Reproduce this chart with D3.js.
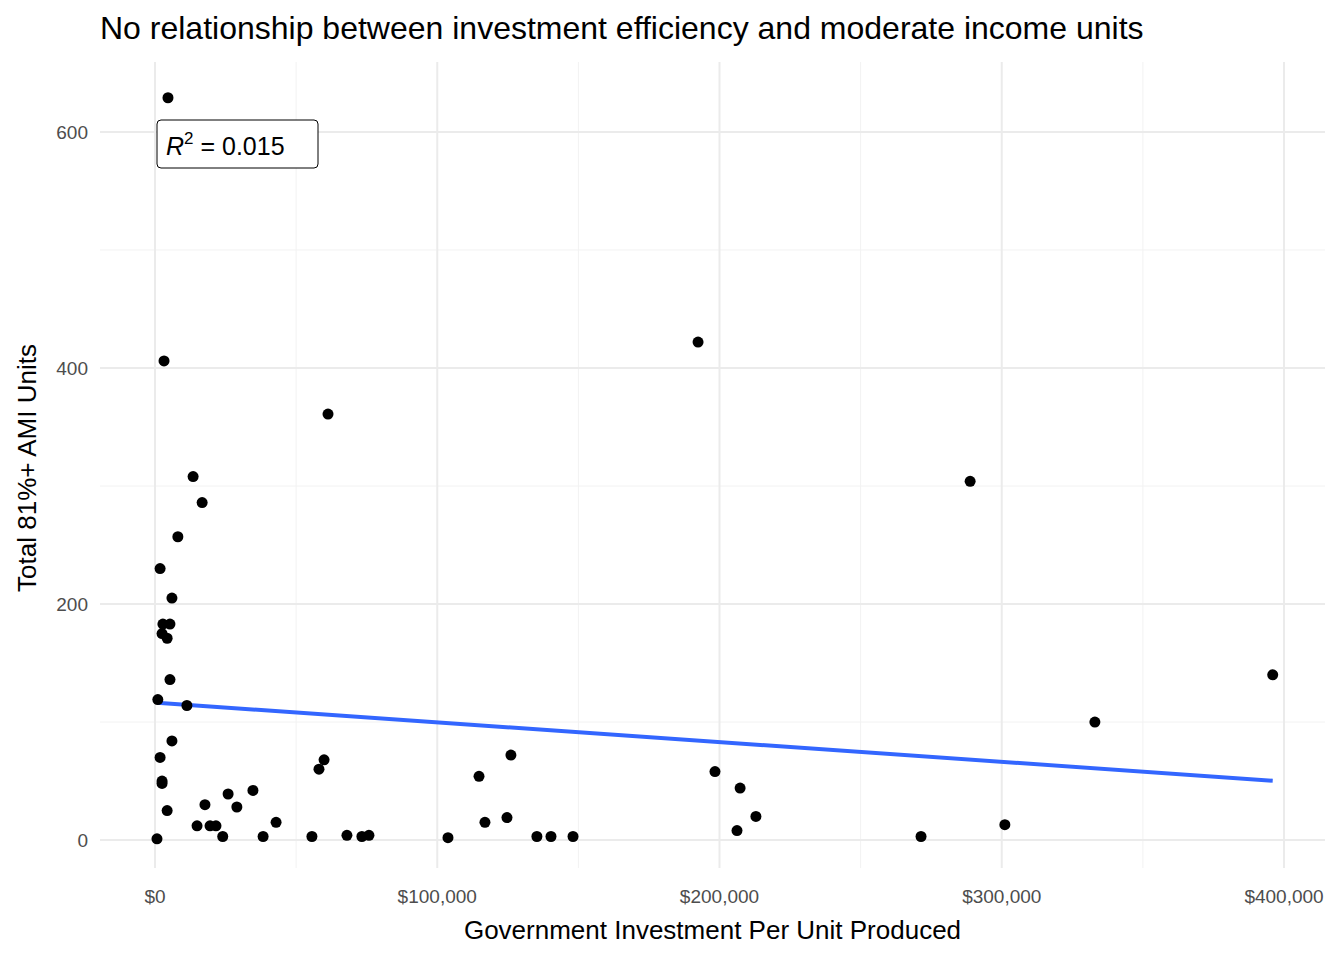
<!DOCTYPE html>
<html><head><meta charset="utf-8">
<script src="https://cdn.jsdelivr.net/npm/d3@7"></script>
<style>body{margin:0;background:#fff;font-family:"Liberation Sans",Arial,sans-serif}</style>
</head><body><svg id="c" width="1344" height="960"></svg>
<script>
const investment = [4.6,3.2,192.4,61.3,288.8,13.5,16.7,8.1,1.8,6,2.8,5.3,2.5,4.3,5.3,396,1,11.3,333,6,1.8,2.5,2.5,4.3,0.7,17.7,14.9,19.5,21.6,24,25.9,29,34.7,38.3,42.9,55.6,58.1,59.9,68,73.3,75.8,103.8,114.8,116.9,124.7,126.1,135.3,140.3,148.1,198.4,207.3,206.2,212.9,271.4,301.1].map(v=>v*1000);
const units = [629,406,422,361,304,308,286,257,230,205,183,183,175,171,136,140,119,114,100,84,70,50,48,25,1,30,12,12,12,3,39,28,42,3,15,3,60,68,4,3,4,2,54,15,19,72,3,3,3,58,44,8,20,3,13];
const xTicks = [0,100000,200000,300000,400000];
const xMinor = [50000,150000,250000,350000];
const yTicks = [0,200,400,600];
const yMinor = [100,300,500];

const svg = d3.select("#c");
const L=100,R=1325,T=62,B=868;
const x = d3.scaleLinear().domain([-19486,414526]).range([L,R]);
const y = d3.scaleLinear().domain([-23.7,659.3]).range([B,T]);
const g = svg.append("g");
g.selectAll(".mx").data(xMinor).join("line").attr("x1",x).attr("x2",x).attr("y1",T).attr("y2",B).attr("stroke","#f2f2f2").attr("stroke-width",1);
g.selectAll(".my").data(yMinor).join("line").attr("y1",y).attr("y2",y).attr("x1",L).attr("x2",R).attr("stroke","#f2f2f2").attr("stroke-width",1);
g.selectAll(".gx").data(xTicks).join("line").attr("x1",x).attr("x2",x).attr("y1",T).attr("y2",B).attr("stroke","#ebebeb").attr("stroke-width",2);
g.selectAll(".gy").data(yTicks).join("line").attr("y1",y).attr("y2",y).attr("x1",L).attr("x2",R).attr("stroke","#ebebeb").attr("stroke-width",2);

const fmt = d=> "$"+d3.format(",")(d);
svg.selectAll(".xt").data(xTicks).join("text").attr("x",x).attr("y",903).attr("text-anchor","middle").attr("font-size",19).attr("fill","#4d4d4d").text(fmt);
svg.selectAll(".yt").data(yTicks).join("text").attr("x",88).attr("y",d=>y(d)+7).attr("text-anchor","end").attr("font-size",19).attr("fill","#4d4d4d").text(d=>d);

// linear regression
const n=investment.length, mx=d3.mean(investment), my=d3.mean(units);
let sxy=0,sxx=0; for(let i=0;i<n;i++){sxy+=(investment[i]-mx)*(units[i]-my);sxx+=(investment[i]-mx)**2;}
const b=sxy/sxx, a=my-b*mx;
const [x0,x1]=d3.extent(investment);
svg.append("line").attr("x1",x(x0)).attr("x2",x(x1)).attr("y1",y(a+b*x0)).attr("y2",y(a+b*x1)).attr("stroke","#3366FF").attr("stroke-width",4);

svg.selectAll(".pt").data(units).join("circle").attr("cx",(d,i)=>x(investment[i])).attr("cy",d=>y(d)).attr("r",5.5).attr("fill","#000");

svg.append("rect").attr("x",157).attr("y",120).attr("width",161).attr("height",48).attr("rx",4).attr("fill","#fff").attr("stroke","#000");
const t=svg.append("text").attr("x",166).attr("y",155).attr("font-size",25).attr("fill","#000");
t.append("tspan").attr("font-style","italic").text("R");
t.append("tspan").attr("dy",-11).attr("font-size",17).text("2");
t.append("tspan").attr("dy",11).text(" = 0.015");

svg.append("text").attr("x",100).attr("y",39).attr("font-size",32).text("No relationship between investment efficiency and moderate income units");
svg.append("text").attr("x",(L+R)/2).attr("y",939).attr("text-anchor","middle").attr("font-size",26).text("Government Investment Per Unit Produced");
svg.append("text").attr("transform","translate(36,468) rotate(-90)").attr("text-anchor","middle").attr("font-size",26).text("Total 81%+ AMI Units");
</script></body></html>
